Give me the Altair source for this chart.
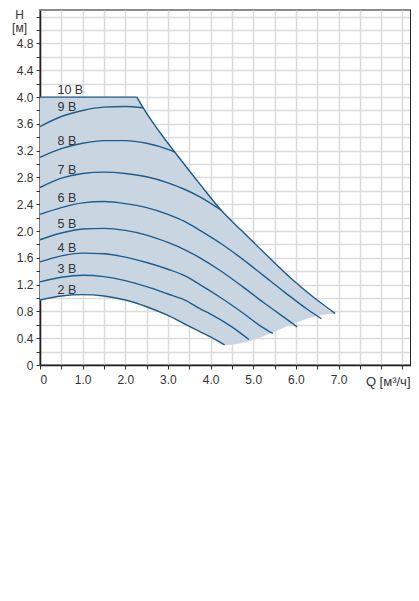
import altair as alt
import pandas as pd

# ---- data ----
curve_names = ["2 B", "3 B", "4 B", "5 B", "6 B", "7 B", "8 B", "9 B", "10 B"]

q2 = [0, 0.5, 1.0, 1.5, 2.0, 2.5, 3.0, 3.4, 3.75, 4.0, 4.33]
h2 = [0.97, 1.03, 1.05, 1.03, 0.97, 0.87, 0.74, 0.61, 0.50, 0.42, 0.30]

q3 = [0, 0.5, 1.0, 1.5, 2.0, 2.5, 3.0, 3.4, 3.75, 4.0, 4.5, 4.9]
h3 = [1.24, 1.31, 1.34, 1.32, 1.26, 1.17, 1.06, 0.97, 0.84, 0.76, 0.57, 0.38]

q4 = [0, 0.5, 1.0, 1.5, 2.0, 2.5, 3.0, 3.4, 3.75, 4.25, 4.75, 5.2, 5.46]
h4 = [1.54, 1.63, 1.67, 1.66, 1.61, 1.53, 1.43, 1.33, 1.20, 1.00, 0.78, 0.57, 0.47]

q5 = [0, 0.5, 1.0, 1.5, 2.0, 2.5, 3.0, 3.4, 3.75, 4.25, 4.75, 5.25, 5.75, 6.03]
h5 = [1.87, 1.97, 2.03, 2.04, 2.01, 1.94, 1.83, 1.72, 1.60, 1.40, 1.17, 0.93, 0.70, 0.57]

q6 = [0, 0.5, 1.0, 1.5, 2.0, 2.5, 3.0, 3.4, 3.75, 4.25, 4.75, 5.25, 5.75, 6.25, 6.6]
h6 = [2.25, 2.35, 2.42, 2.44, 2.41, 2.35, 2.25, 2.14, 2.01, 1.81, 1.58, 1.33, 1.08, 0.84, 0.69]

q7 = [0, 0.5, 1.0, 1.5, 2.0, 2.5, 3.0, 3.4, 3.75, 4.25]
h7 = [2.65, 2.79, 2.86, 2.88, 2.86, 2.81, 2.72, 2.62, 2.51, 2.31]

q8 = [0, 0.5, 1.0, 1.5, 2.0, 2.5, 3.0, 3.16]
h8 = [3.10, 3.23, 3.31, 3.35, 3.35, 3.31, 3.22, 3.18]

q9 = [0, 0.5, 1.0, 1.5, 2.0, 2.42]
h9 = [3.56, 3.71, 3.80, 3.85, 3.86, 3.84]

q10 = [0, 2.27]
h10 = [4.0, 4.0]

q_max = [2.27, 2.42, 2.93, 3.16, 3.75, 4.25, 4.72, 5.3, 5.93, 6.4, 6.92]
h_max = [4.0, 3.84, 3.37, 3.18, 2.70, 2.31, 2.01, 1.65, 1.27, 1.02, 0.77]

label_q = 0.41
label_h = [1.12, 1.43, 1.74, 2.10, 2.50, 2.91, 3.35, 3.85, 4.10]

# ---- tables ----
curves_q = [q2, q3, q4, q5, q6, q7, q8, q9]
curves_h = [h2, h3, h4, h5, h6, h7, h8, h9]
rows = []
for name, qs, hs in zip(curve_names[:-1], curves_q, curves_h):
    for i, (q, h) in enumerate(zip(qs, hs)):
        rows.append({"curve": name, "q": q, "h": h, "idx": i})
for i, (q, h) in enumerate(zip(q_max, h_max)):
    rows.append({"curve": "max", "q": q, "h": h, "idx": i})
curves_df = pd.DataFrame(rows)

flat_df = pd.DataFrame({"curve": "10 B", "q": q10, "h": h10, "idx": [0, 1]})

poly_q = q10 + q_max[1:] + q2[::-1]
poly_h = h10 + h_max[1:] + h2[::-1]
poly_df = pd.DataFrame({"q": poly_q, "h": poly_h, "idx": list(range(len(poly_q)))})

labels_df = pd.DataFrame({"text": curve_names, "q": [label_q] * len(curve_names), "h": label_h})

LINE = "#1d5c8c"
FILL = "#c9d6e2"
FONT = "Liberation Sans"
W, H = 371, 355

x_ticks = [i * 0.5 for i in range(18)]
y_ticks = [round(i * 0.2, 1) for i in range(27)]

x_scale = alt.Scale(domain=[0, 8.7], nice=False, zero=True)
y_scale = alt.Scale(domain=[0, 5.3], nice=False, zero=True)

x_axis = alt.Axis(
    values=x_ticks,
    labelExpr="datum.value == 0 ? '0' : (datum.value % 1 == 0 && datum.value <= 7) ? format(datum.value, '.1f') : ''",
    grid=True, gridColor="#dcdcdc", gridWidth=1.5,
    domainColor="#222", domainWidth=1.5,
    tickColor="#333", tickSize=4,
    labelFont=FONT, labelFontSize=12, labelColor="#333", labelPadding=5,
    title="Q [м³/ч]", titleFont=FONT, titleFontSize=13, titleFontWeight="normal",
    titleColor="#333", titleX=370, titleY=16, titleAlign="right", titleBaseline="middle",
    titleAnchor="start",
)
y_axis = alt.Axis(
    values=y_ticks,
    labelExpr="(round(datum.value * 10) % 4 == 0 && datum.value <= 4.85) ? (datum.value == 0 ? '0' : format(datum.value, '.1f')) : ''",
    grid=True, gridColor="#dcdcdc", gridWidth=1.5,
    domainColor="#222", domainWidth=1.5,
    tickColor="#333", tickSize=4,
    labelFont=FONT, labelFontSize=12, labelColor="#333", labelPadding=3,
    title=["H", "[м]"], titleFont=FONT, titleFontSize=12, titleFontWeight="normal",
    titleColor="#333", titleAngle=0, titleX=-21, titleY=-1, titleAlign="center",
    titleBaseline="top", titleLineHeight=13, titleAnchor="start",
)

X = alt.X("q:Q", scale=x_scale, axis=x_axis)
Y = alt.Y("h:Q", scale=y_scale, axis=y_axis)

poly = alt.Chart(poly_df).mark_line(
    fill=FILL, stroke=FILL, strokeWidth=0.5, interpolate="monotone"
).encode(x=X, y=Y, order="idx:Q")

lines = alt.Chart(curves_df).mark_line(
    color=LINE, strokeWidth=1.4, interpolate="monotone"
).encode(x=X, y=Y, detail="curve:N", order="idx:Q")

flat = alt.Chart(flat_df).mark_line(color=LINE, strokeWidth=1.4).encode(
    x=X, y=Y, order="idx:Q"
)

labels = alt.Chart(labels_df).mark_text(
    align="left", baseline="middle", font=FONT, fontSize=12.5, color="#333"
).encode(x=X, y=Y, text="text:N")

right_border = alt.Chart(flat_df).mark_rule(color="#222", strokeWidth=1.5).encode(
    x=alt.value(W), y=alt.value(0), y2=alt.value(H)
)

chart = (
    alt.layer(poly, lines, flat, labels, right_border)
    .properties(
        width=W, height=H,
        autosize=alt.AutoSizeParams(type="none"),
        padding={"left": 32, "top": 2, "right": 0, "bottom": 30},
    )
    .configure_view(stroke="#8a8a8a", strokeWidth=2)
)

chart.save("out.html", embed_options={"renderer": "svg", "actions": False})
